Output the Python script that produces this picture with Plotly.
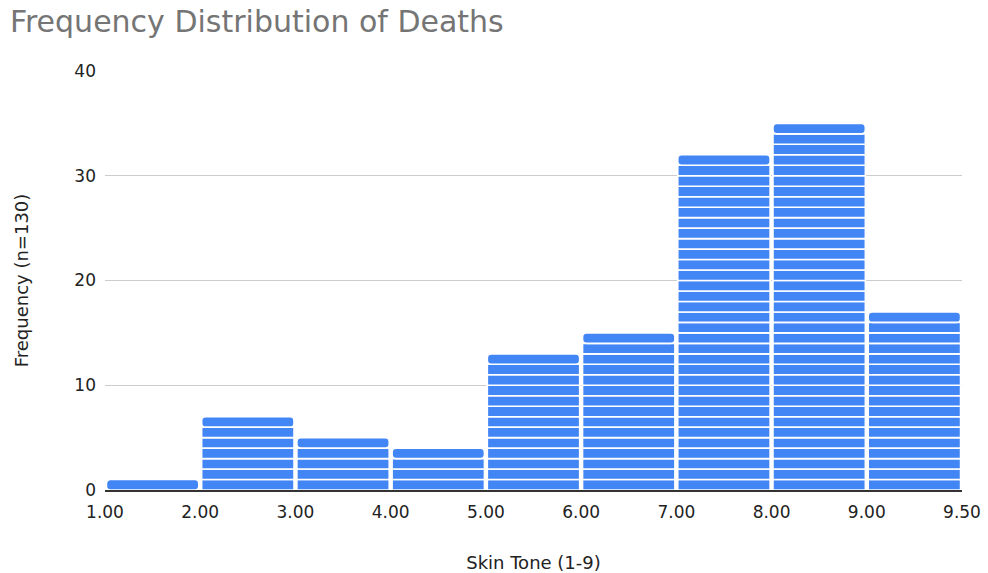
import plotly.graph_objects as go

# Histogram buckets (skin tone) and their death counts
bin_edges = ["1.00", "2.00", "3.00", "4.00", "5.00", "6.00", "7.00", "8.00", "9.00", "9.50"]
counts = [1, 7, 5, 4, 13, 15, 32, 35, 17]

BLUE = "#4285f4"
FONT = "DejaVu Sans, Arial, sans-serif"

# Each bucket is drawn as a stack of unit blocks; the top block is rounded
lower_x, lower_base = [], []
top_x, top_base = [], []
for i, c in enumerate(counts):
    center = i + 0.5
    for k in range(c):
        if k == c - 1:
            top_x.append(center)
            top_base.append(k)
        else:
            lower_x.append(center)
            lower_base.append(k)

fig = go.Figure()
fig.add_trace(go.Bar(
    x=lower_x, y=[1] * len(lower_x), base=lower_base, width=0.97,
    marker=dict(color=BLUE, line=dict(color="white", width=1.6)),
    hoverinfo="skip", showlegend=False,
))
fig.add_trace(go.Bar(
    x=top_x, y=[1] * len(top_x), base=top_base, width=0.97,
    marker=dict(color=BLUE, line=dict(color="white", width=1.6), cornerradius=4),
    hoverinfo="skip", showlegend=False,
))

fig.update_layout(
    width=988, height=573,
    barmode="overlay",
    plot_bgcolor="white", paper_bgcolor="white",
    margin=dict(l=105, r=26, t=71, b=83),
    font=dict(family=FONT, size=16, color="#222222"),
    title=dict(
        text="Frequency Distribution of Deaths",
        x=0.01, xanchor="left", y=0.962, yanchor="middle",
        font=dict(family=FONT, size=30, color="#757575"),
    ),
    xaxis=dict(
        range=[0, 9],
        automargin=False,
        tickmode="array",
        tickvals=list(range(len(bin_edges))),
        ticktext=bin_edges,
        showgrid=False, zeroline=False,
        showline=True, linecolor="#333333", linewidth=2,
        ticks="", ticklen=0, ticklabelstandoff=6,
        tickfont=dict(size=17, color="#222222"),
        title=dict(text="Skin Tone (1-9)", font=dict(size=18, color="#222222"), standoff=37),
    ),
    yaxis=dict(
        range=[0, 40],
        automargin=False,
        tickvals=[0, 10, 20, 30, 40],
        showgrid=True, gridcolor="#cccccc", gridwidth=1,
        zeroline=False, showline=False,
        ticks="", ticklabelstandoff=8,
        tickfont=dict(size=17, color="#222222"),
        title=dict(text="Frequency (n=130)", font=dict(size=18, color="#222222"), standoff=41),
    ),
)

fig.write_html("out.html")
